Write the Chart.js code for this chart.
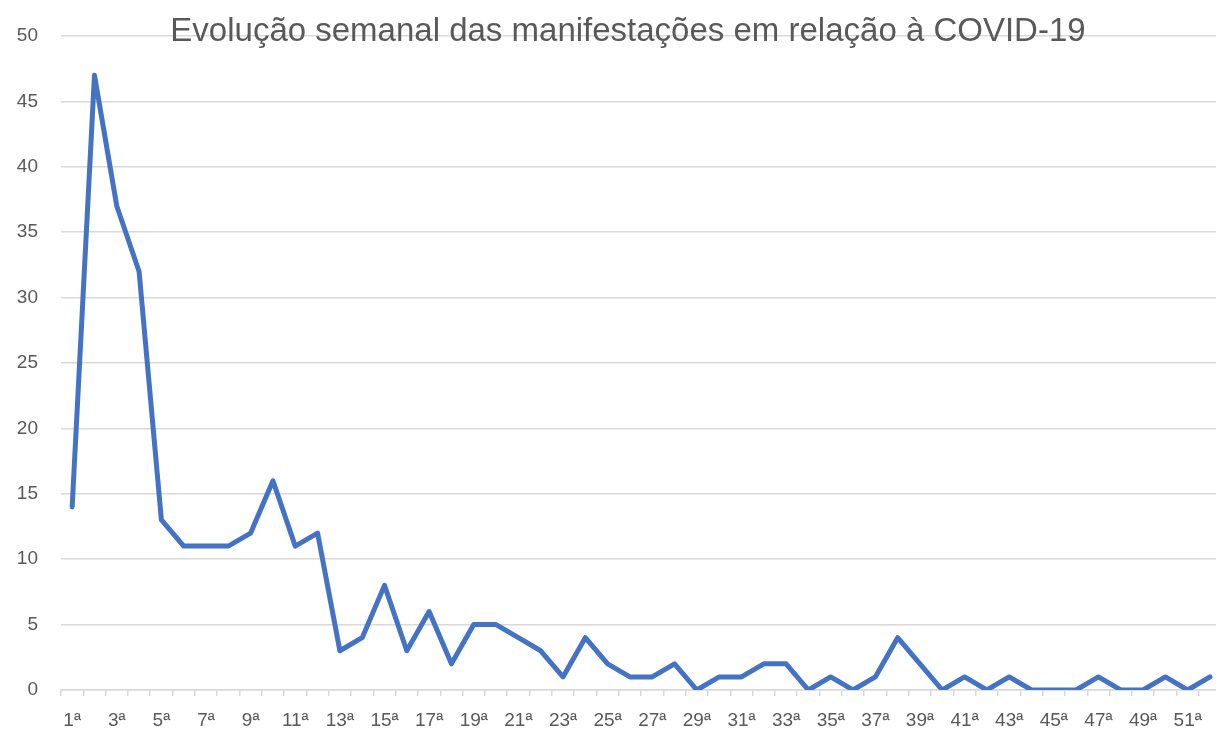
<!DOCTYPE html>
<html>
<head>
<meta charset="utf-8">
<script src="https://cdn.jsdelivr.net/npm/chart.js@4/dist/chart.umd.min.js"></script>
<style>
  html, body { margin: 0; padding: 0; background: #fff; overflow: hidden; }
  #wrap { position: relative; width: 1216px; height: 729px; overflow: hidden; }
  #chart { position: absolute; left: 0; top: 0; }
  #title {
    position: absolute; left: 0; top: 11px; width: 1256px; margin: 0;
    text-align: center; font: 400 33px "Liberation Sans", Arial, sans-serif;
    color: #595959; white-space: nowrap; pointer-events: none;
  }
</style>
</head>
<body>
<div id="wrap">
  <canvas id="chart" width="1223" height="729"></canvas>
  <h1 id="title">Evolução semanal das manifestações em relação à COVID-19</h1>
</div>
<script>
// semanas e número de manifestações
const semanas = [];
for (let i = 1; i <= 52; i++) semanas.push(i + "ª");

const manifestacoes = [
  14, 47, 37, 32, 13, 11, 11, 11, 12, 16,
  11, 12, 3, 4, 8, 3, 6, 2, 5, 5,
  4, 3, 1, 4, 2, 1, 1, 2, 0, 1,
  1, 2, 2, 0, 1, 0, 1, 4, 2, 0,
  1, 0, 1, 0, 0, 0, 1, 0, 0, 1,
  0, 1
];

const yTicks = [0, 5, 10, 15, 20, 25, 30, 35, 40, 45, 50];

const cinza = "#595959";
const grade = "#d9d9d9";
const fonte = "'Liberation Sans', Arial, sans-serif";

new Chart(document.getElementById("chart").getContext("2d"), {
  type: "line",
  data: {
    labels: semanas,
    datasets: [
      {
        data: manifestacoes,
        borderColor: "#4472C4",
        borderWidth: 5,
        pointRadius: 0,
        tension: 0,
        borderJoinStyle: "round",
        borderCapStyle: "round",
        fill: false,
      },
    ],
  },
  options: {
    responsive: false,
    animation: false,
    layout: { padding: { top: 36, right: 1, bottom: 0, left: 0 } },
    plugins: {
      legend: { display: false },
      title: { display: false },
      tooltip: { enabled: false },
    },
    scales: {
      x: {
        type: "category",
        offset: true,
        grid: {
          offset: true,
          drawOnChartArea: false,
          drawTicks: true,
          tickLength: 6,
          color: grade,
          lineWidth: 1.5,
        },
        border: { display: true, color: grade, width: 1.5 },
        ticks: {
          autoSkip: false,
          maxRotation: 0,
          minRotation: 0,
          padding: 13,
          color: cinza,
          font: { family: fonte, size: 19 },
          callback: function (value, index) {
            return index % 2 === 0 ? semanas[index] : "";
          },
        },
        afterFit: function (scale) {
          scale.height = 39;
        },
      },
      y: {
        min: 0,
        max: 50,
        afterBuildTicks: function (scale) {
          scale.ticks = yTicks.map((v) => ({ value: v }));
        },
        grid: {
          color: grade,
          lineWidth: 1.5,
          drawTicks: false,
        },
        border: { display: false },
        ticks: {
          padding: 23,
          color: cinza,
          font: { family: fonte, size: 19 },
        },
        afterFit: function (scale) {
          scale.width = 61;
        },
      },
    },
  },
});
</script>
</body>
</html>
